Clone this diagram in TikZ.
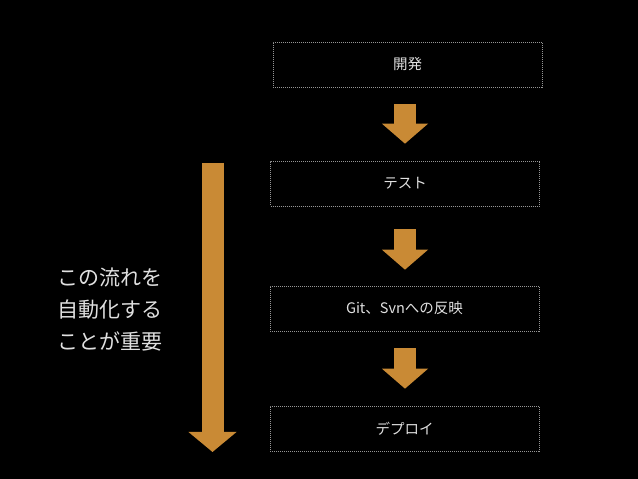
\documentclass[tikz,border=0pt]{standalone}
\usepackage{xcolor}
\usepackage{fontspec}
\setmainfont{Noto Sans CJK JP}
\usepackage{tikz}
\usetikzlibrary{positioning,calc,arrows.meta}

\definecolor{flowfill}{RGB}{201,138,53}
\definecolor{flowtext}{RGB}{224,224,224}
\definecolor{flowedge}{RGB}{150,150,150}

\begin{document}
\begin{tikzpicture}[x=1pt,y=1pt,
	stepbox/.style={draw=flowedge,line width=0.6pt,dash pattern=on 1pt off 1pt,
		minimum width=269pt,minimum height=45pt,inner sep=0pt,
		text=flowtext,font=\fontsize{14.5}{17}\selectfont},
	flowarrow/.style={draw=flowfill,line width=22pt,
		-{Triangle[width=45pt,length=20pt]}}]
	
	\fill[black] (0,0) rectangle (638,479);
	\useasboundingbox (0,0) rectangle (638,479);
	
	\node[stepbox] (dev) at (407.5,414.5) {開発};
	\node[stepbox] (test) at (405,295.5) {テスト};
	\node[stepbox] (vcs) at (404.5,170.5) {Git、Svnへの反映};
	\node[stepbox] (deploy) at (404.5,50.5) {デプロイ};
	
	\draw[flowarrow,shorten <=17pt,shorten >=17pt] (dev.south-|405,0) -- (test.north-|405,0);
	\draw[flowarrow,shorten <=23pt,shorten >=16pt] (test.south-|405,0) -- (vcs.north-|405,0);
	\draw[flowarrow,shorten <=17pt,shorten >=17pt] (vcs.south-|405,0) -- (deploy.north-|405,0);
	
	% long arrow on the left
	\coordinate (flowtop) at (212.5,316);
	\coordinate (flowend) at (212.5,27);
	\draw[flowarrow,-{Triangle[width=47pt,length=20pt]}] (flowtop) -- (flowend);
	
	\node[text=flowtext,align=left,font=\fontsize{21}{32}\selectfont] (note) at (110,169)
		{この流れを\\自動化する\\ことが重要};
	
\end{tikzpicture}
\end{document}
